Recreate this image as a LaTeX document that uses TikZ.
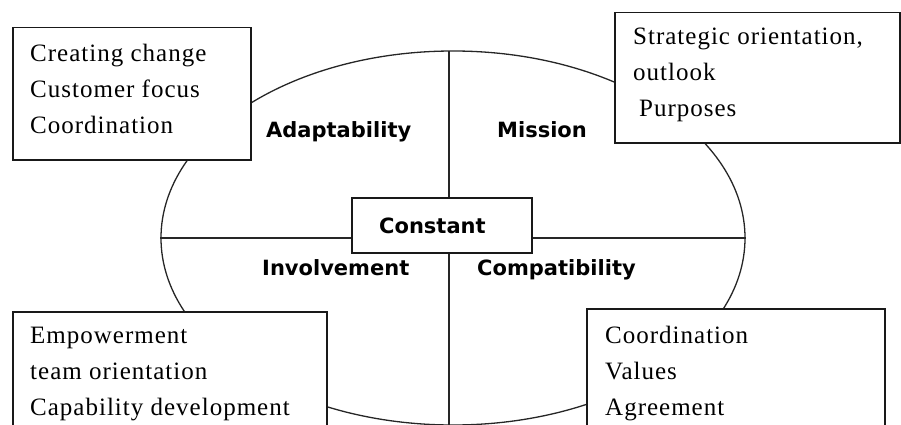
\documentclass[tikz,border=0pt]{standalone}
\usepackage{fontspec}
\setmainfont{Liberation Serif}[LetterSpace=4]
\newfontfamily\labelsans{DejaVu Sans}
\usetikzlibrary{shapes.geometric}

\begin{document}
\begin{tikzpicture}[x=1pt,y=-1pt,
  outline/.style={draw=black!85, line width=1.3pt},
  infobox/.style={draw=black!90, line width=1.5pt, fill=white, rectangle, inner sep=0pt, anchor=north west},
  itemtext/.style={anchor=base west, inner sep=0pt, font=\fontsize{25}{36}\selectfont},
  quadlabel/.style={anchor=base west, inner sep=0pt, font=\labelsans\bfseries\fontsize{21}{25}\selectfont},
]
\clip (0,0) rectangle (901,425);

% central oval and the cross dividing it into four quadrants
\node[ellipse, outline, minimum width=584pt, minimum height=374pt, inner sep=0pt] (oval) at (453,238) {};
\node[infobox, anchor=center, minimum width=180pt, minimum height=55pt] (core) at (442,225.5) {};
\node[quadlabel] (corelabel) at (379,233) {Constant};

\coordinate (vtop) at (449,51);
\coordinate (vbot) at (449,430);
\draw[outline] (vtop) -- (vtop |- core.north);
\draw[outline] (core.south -| vtop) -- (vbot);
\draw[outline] (oval.west) -- (oval.west -| core.west);
\draw[outline] (core.east |- oval.east) -- (oval.east);

% quadrant names
\node[quadlabel] (adapt) at (266,137) {Adaptability};
\node[quadlabel] (mission) at (497,137) {Mission};
\node[quadlabel] (involve) at (262,275) {Involvement};
\node[quadlabel] (compat) at (477,275) {Compatibility};

% trait boxes at the four corners
\node[infobox, minimum width=238pt, minimum height=132pt] (tlbox) at (12,27) {};
\node[itemtext] (tltext) at (30,62) {\parbox[t]{300pt}{\raggedright Creating change\\Customer focus\\Coordination}};

\node[infobox, minimum width=285pt, minimum height=130pt] (trbox) at (614,12) {};
\node[itemtext] (trtext) at (633,45) {\parbox[t]{300pt}{\raggedright Strategic orientation,\\outlook\\\hspace*{6pt}Purposes}};

\node[infobox, minimum width=314pt, minimum height=140pt] (blbox) at (12,311) {};
\node[itemtext] (bltext) at (30,343) {\parbox[t]{320pt}{\raggedright Empowerment\\team orientation\\Capability development}};

\node[infobox, minimum width=298pt, minimum height=140pt] (brbox) at (586,308) {};
\node[itemtext] (brtext) at (605,343) {\parbox[t]{300pt}{\raggedright Coordination\\Values\\Agreement}};
\end{tikzpicture}
\end{document}
